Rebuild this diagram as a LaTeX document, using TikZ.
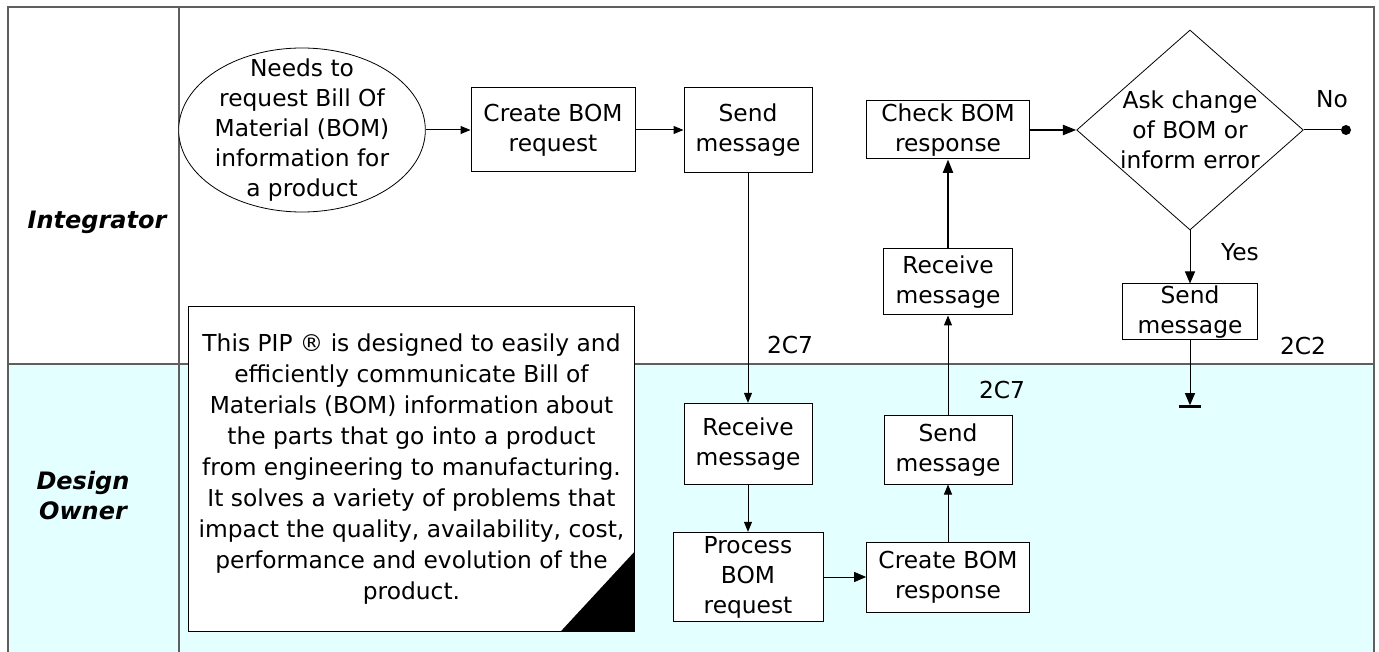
\documentclass[tikz,border=0pt]{standalone}
\usepackage{fontspec}
\setmainfont{DejaVu Sans}
\usetikzlibrary{shapes.geometric,arrows.meta,positioning}
\definecolor{laneFill}{HTML}{E3FFFF}
\definecolor{frameStroke}{HTML}{5F5F5F}

\begin{document}
\begin{tikzpicture}[
    x=0.75pt, y=-0.75pt,
    font=\fontsize{17.5}{22.5}\selectfont,
    >={Triangle[length=7.5pt,width=6pt]},
    stepBox/.style={
        rectangle, draw=black, line width=0.75pt,
        fill=white, align=center, inner sep=1pt
    },
    startNode/.style={
        ellipse, draw=black, line width=0.6pt, fill=white,
        inner sep=0pt, minimum width=185pt, minimum height=123pt
    },
    decisionNode/.style={
        diamond, draw=black, line width=0.6pt, fill=white,
        inner sep=0pt, minimum width=170pt, minimum height=150pt
    },
    inText/.style={align=center, inner sep=0pt},
    noteNode/.style={
        rectangle, draw=black, line width=0.75pt, fill=white,
        minimum width=334pt, minimum height=243pt,
        align=center, inner sep=0pt,
        font=\fontsize{17.5}{23.25}\selectfont
    },
    laneTitle/.style={font=\fontsize{18}{22.5}\selectfont\bfseries\itshape, align=center},
    msgCode/.style={inner sep=0pt},
    frame/.style={draw=frameStroke, line width=0.9pt},
    flow/.style={->, line width=0.75pt},
    flowWide/.style={-{Triangle[length=9pt,width=7.5pt]}, line width=0.75pt},
    flowThick/.style={-{Triangle[length=10pt,width=7.5pt]}, line width=1.5pt}
]

\useasboundingbox (0,0) rectangle (1379,652);

% Swimlanes: Integrator on top, Design Owner below
\fill[laneFill] (8,364) rectangle (1374,652);
\draw[frame] (8,652) -- (8,7) -- (1374,7) -- (1374,652);
\draw[frame] (8,364) -- (1374,364);
\draw[frame] (179,7) -- (179,652);

\node[laneTitle] (IntegratorTitle) at (97,222) {Integrator};
\node[laneTitle] (OwnerTitle) at (83,496) {Design\\Owner};

% Integrator lane
\node[startNode] (Need) at (302,130) {};
\node[inText] (NeedText) at (Need.center)
  {Needs to\\request Bill Of\\Material (BOM)\\information for\\a product};
\node[stepBox, minimum width=123pt, minimum height=63pt] (CreateReq) at (553,130) {Create BOM\\request};
\node[stepBox, minimum width=96pt, minimum height=64pt] (SendReq) at (748,130) {Send\\message};
\node[stepBox, minimum width=122pt, minimum height=43.5pt] (CheckResp) at (948,130) {Check BOM\\response};
\node[stepBox, minimum width=97pt, minimum height=49.5pt] (RecvResp) at (948,282) {Receive\\message};
\node[decisionNode] (AskDecision) at (1190,130) {};
\node[inText] (AskText) at (AskDecision.center) {Ask change\\of BOM or\\inform error};
\node[circle, fill=black, inner sep=0pt, minimum size=7.5pt] (EndDot) at (1346,130) {};
\node[stepBox, minimum width=101pt, minimum height=42pt] (SendChange) at (1190,312) {Send\\message};
\node[rectangle, fill=black, inner sep=0pt, minimum width=16.5pt, minimum height=2.25pt] (StopBar) at (1190,407) {};

\node[msgCode] (NoLabel) at (1332,99) {No};
\node[msgCode] (YesLabel) at (1240,252) {Yes};
\node[msgCode] (CodeReq) at (790,345) {2C7};
\node[msgCode] (CodeResp) at (1002,390) {2C7};
\node[msgCode] (CodeChange) at (1303,346) {2C2};

% Design Owner lane
\node[noteNode] (Note) at (411.5,469)
  {This PIP \textregistered{} is designed to easily and\\efficiently communicate Bill of\\Materials (BOM) information about\\the parts that go into a product\\from engineering to manufacturing.\\It solves a variety of problems that\\impact the quality, availability, cost,\\performance and evolution of the\\product.};
\fill (Note.south east) -- ++(-74,0) -- ++(74,-80) -- cycle;

\node[stepBox, minimum width=96pt, minimum height=61pt] (RecvReq) at (748,444) {Receive\\message};
\node[stepBox, minimum width=112.5pt, minimum height=67pt] (ProcReq) at (748,577) {Process\\BOM\\request};
\node[stepBox, minimum width=122pt, minimum height=52.5pt] (CreateResp) at (948,577) {Create BOM\\response};
\node[stepBox, minimum width=96pt, minimum height=51pt] (SendResp) at (948,450) {Send\\message};

% Connectors
\draw[flow] (Need.east) -- (CreateReq.west);
\draw[flow] (CreateReq) -- (SendReq);
\draw[flow] (SendReq) -- (RecvReq);
\draw[flow] (RecvReq) -- (ProcReq);
\draw[flowWide] (ProcReq) -- (CreateResp);
\draw[flow] (CreateResp) -- (SendResp);
\draw[flow] (SendResp) -- (RecvResp);
\draw[flowThick] (RecvResp) -- (CheckResp);
\draw[flowThick] (CheckResp) -- (AskDecision);
\draw[line width=0.75pt] (AskDecision.east) -- (EndDot);
\draw[flowWide] (AskDecision.south) -- (SendChange);
\draw[flowWide] (SendChange) -- (StopBar.north);

\end{tikzpicture}
\end{document}
